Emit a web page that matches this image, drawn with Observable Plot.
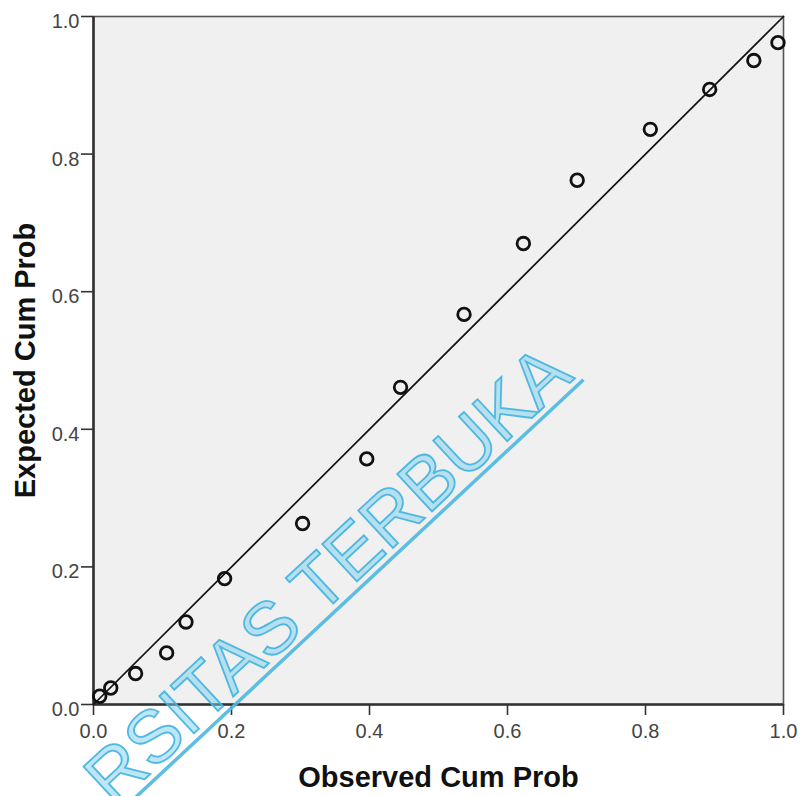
<!DOCTYPE html>
<html>
<head>
<meta charset="utf-8">
<script src="https://cdn.jsdelivr.net/npm/d3@7"></script>
<script src="https://cdn.jsdelivr.net/npm/@observablehq/plot@0.6"></script>
<style>
  html, body { margin: 0; padding: 0; background: #ffffff; }
  #chart svg { display: block; }
</style>
</head>
<body>
<div id="chart"></div>
<script>
// Observed vs expected cumulative probabilities (P-P plot)
const observedCumProb = [0.009, 0.025, 0.061, 0.106, 0.134, 0.190, 0.303, 0.396, 0.445, 0.537, 0.623, 0.701, 0.807, 0.893, 0.957, 0.992];
const expectedCumProb = [0.012, 0.024, 0.045, 0.075, 0.120, 0.183, 0.263, 0.357, 0.461, 0.567, 0.670, 0.762, 0.836, 0.894, 0.936, 0.962];
const refLine = [0, 1];
const tickValues = [0, 0.2, 0.4, 0.6, 0.8, 1.0];
const xTitle = "Observed Cum Prob";
const yTitle = "Expected Cum Prob";
const watermark = "RSITAS TERBUKA";

const points = observedCumProb.map((x, i) => ({x, y: expectedCumProb[i]}));
const fmt = d3.format(".1f");
const FONT = "Arial, 'Liberation Sans', sans-serif";

const chart = Plot.plot({
  width: 803,
  height: 796,
  marginLeft: 93,
  marginRight: 20,
  marginTop: 16,
  marginBottom: 92,
  style: {background: "#ffffff", fontFamily: FONT, color: "#333"},
  x: {domain: [0, 1], label: null},
  y: {domain: [0, 1], label: null},
  marks: [
    Plot.frame({fill: "#f0f0f0", stroke: "#555", strokeWidth: 1.6}),
    Plot.axisX({ticks: tickValues, tickFormat: fmt, tickSize: 11, tickPadding: 8, fontSize: 20, stroke: "#333", strokeWidth: 1.6, fill: "#444", label: null}),
    // y tick marks (labels drawn separately so they can sit slightly below the tick, as in the reference)
    Plot.axisY({ticks: tickValues, tickFormat: fmt, tickSize: 12, fontSize: 20, stroke: "#333", strokeWidth: 1.6, fill: "none", label: null}),
    Plot.axisY({ticks: tickValues, tickFormat: fmt, tickSize: 0, tickPadding: 14, fontSize: 20, dy: 5, fill: "#444", label: null}),
    Plot.ruleX([0], {stroke: "#333", strokeWidth: 2.6}),
    Plot.ruleY([0], {stroke: "#333", strokeWidth: 2.6}),
    Plot.line(refLine, {x: d => d, y: d => d, stroke: "#111", strokeWidth: 1.7}),
    Plot.dot(points, {x: "x", y: "y", r: 6.3, stroke: "#111", strokeWidth: 2.8, fill: "none"}),
    Plot.text([xTitle], {frameAnchor: "bottom", textAnchor: "middle", lineAnchor: "middle", dy: 73, fontSize: 29, fontWeight: "bold", fill: "#111"}),
    Plot.text([yTitle], {frameAnchor: "left", textAnchor: "middle", lineAnchor: "middle", dx: -68, rotate: -90, fontSize: 29, fontWeight: "bold", fill: "#111"})
  ]
});

document.getElementById("chart").appendChild(chart);

// Watermark overlay (kept as real text)
const svg = d3.select(chart);
const g = svg.append("g").attr("transform", "translate(575,378) rotate(-43)");
g.append("line")
  .attr("x1", -900).attr("y1", 7).attr("x2", 5).attr("y2", 7)
  .attr("stroke", "#4bb7e1").attr("stroke-width", 3.5).attr("stroke-opacity", 0.9);
g.append("text")
  .attr("text-anchor", "end")
  .attr("font-family", FONT)
  .attr("font-size", 74)
  .attr("fill", "#7ccdee")
  .attr("fill-opacity", 0.5)
  .attr("stroke", "#3fb2df")
  .attr("stroke-width", 1.8)
  .attr("stroke-opacity", 0.9)
  .text(watermark);
</script>
</body>
</html>
